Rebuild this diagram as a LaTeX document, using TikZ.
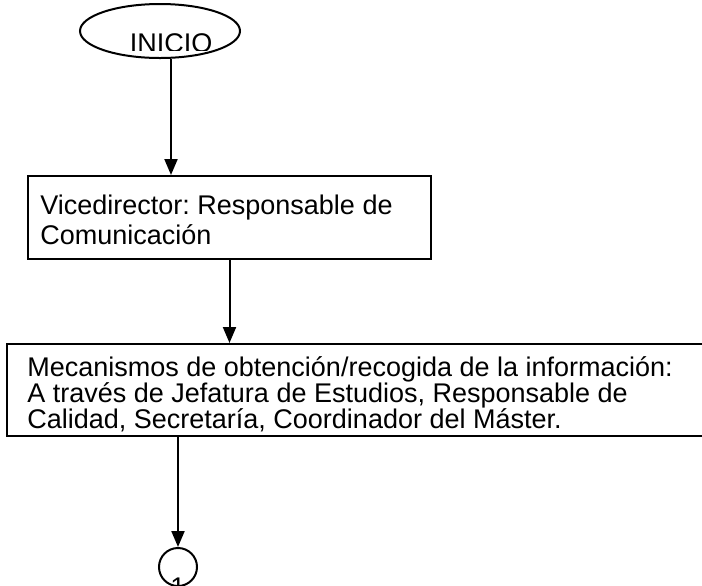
\documentclass[tikz,border=0pt]{standalone}
\usepackage{fontspec}
\setmainfont{Liberation Sans}
\usetikzlibrary{shapes.geometric,arrows.meta}
\begin{document}
\frenchspacing
\begin{tikzpicture}[x=0.5pt,y=-0.5pt,
  caja/.style={draw,line width=1pt,rectangle,anchor=north west,inner sep=0pt},
  linea/.style={anchor=base west,inner sep=0pt,font=\fontsize{13.5pt}{15pt}\selectfont},
  flecha/.style={-{Triangle[length=8pt,width=6.5pt]},line width=1pt}]
\clip (0,0) rectangle (702,585);
\node (inicio) [draw,ellipse,line width=1pt,minimum width=80pt,minimum height=27pt] at (160,31) {};
\begin{scope}
\clip (80,4) rectangle (240,50);
\node (iniciotxt) [linea,anchor=base] at (171,52) {INICIO};
\end{scope}
\node (vice) [caja,minimum width=201.5pt,minimum height=41.5pt] at (27,175) {};
\node (vice1) [linea] at (40,214) {Vicedirector: Responsable de};
\node (vice2) [linea] at (40,244) {Comunicación};
\node (meca) [caja,minimum width=357pt,minimum height=46pt] at (6,343) {};
\node (meca1) [linea] at (27,376) {Mecanismos de obtención/recogida de la información:};
\node (meca2) [linea] at (27,402) {A través de Jefatura de Estudios, Responsable de};
\node (meca3) [linea] at (27,428) {Calidad, Secretaría, Coordinador del Máster.};
\node (uno) [draw,circle,line width=1pt,minimum size=19pt,inner sep=0pt] at (178,567) {};
\begin{scope}
\clip (140,540) rectangle (220,585);
\node (unotxt) [linea,anchor=base] at (178,596) {1};
\end{scope}
\draw[flecha] (iniciotxt.south |- inicio.south) -- (iniciotxt.south |- vice.north);
\draw[flecha] (vice.south) -- (vice.south |- meca.north);
\draw[flecha] (uno.north |- meca.south) -- (uno.north);
\end{tikzpicture}
\end{document}
